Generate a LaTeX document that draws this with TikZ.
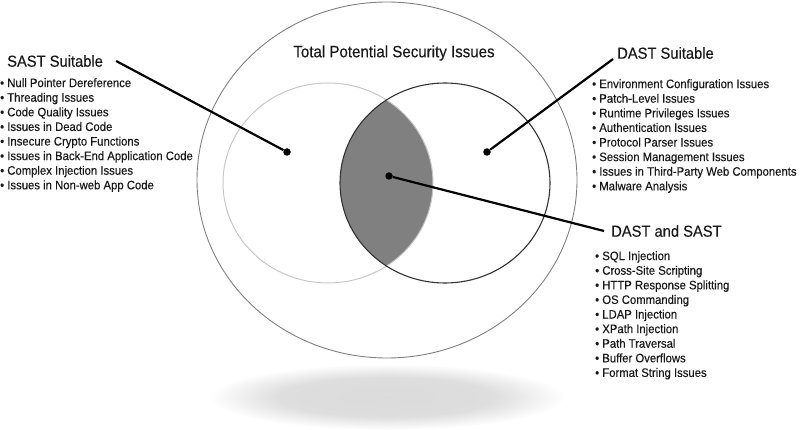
\documentclass[tikz,border=0pt]{standalone}
\usepackage{fontspec}
\setmainfont{Liberation Sans}[FakeStretch=0.92, FakeBold=0.3]
\usetikzlibrary{positioning}
\pgfdeclareradialshading{shadowshade}{\pgfpoint{0bp}{0bp}}{color(0bp)=(black!14); color(15bp)=(black!13); color(25bp)=(white); color(50bp)=(white)}
\begin{document}
\begin{tikzpicture}[x=1pt, y=-1pt]
    \tikzstyle{outer} = [draw=black!50, line width=0.9pt]
    \tikzstyle{sastring} = [draw=black!22, line width=1pt]
    \tikzstyle{dastring} = [draw=black!80, line width=1.1pt]
    \tikzstyle{dot} = [circle, fill=black, inner sep=0pt, minimum size=7.5pt]
    \tikzstyle{leader} = [line width=2.2pt]
    \tikzstyle{head} = [inner sep=0pt, text=black!90, font=\fontsize{16}{19}\selectfont]
    \tikzstyle{items} = [inner sep=0pt, align=left, text=black!90, font=\fontsize{12.3}{14.6}\selectfont]
    \useasboundingbox (0, 0) rectangle (800, 430);

    % shadow under the diagram
    \shade[shading=shadowshade] (387, 397) ellipse [x radius=178, y radius=33];

    % overlap of the two tests
    \begin{scope}
        \clip (328, 183) ellipse [x radius=105, y radius=100];
        \fill[black!50] (445, 183) ellipse [x radius=105, y radius=100];
    \end{scope}
    \draw[outer] (387, 180) ellipse [x radius=190, y radius=178];
    \draw[sastring] (328, 183) ellipse [x radius=105, y radius=100];
    \draw[dastring] (445, 183) ellipse [x radius=105, y radius=100];

    \node[head, font=\fontsize{16.4}{19}\selectfont] (total) at (394, 53) {Total Potential Security Issues};

    % SAST only
    \node[head, anchor=west] (sast) at (7, 61) {SAST Suitable};
    \node[items, anchor=north west] (sastlist) at (0, 78) {%
        \textbullet\ Null Pointer Dereference\\
        \textbullet\ Threading Issues\\
        \textbullet\ Code Quality Issues\\
        \textbullet\ Issues in Dead Code\\
        \textbullet\ Insecure Crypto Functions\\
        \textbullet\ Issues in Back-End Application Code\\
        \textbullet\ Complex Injection Issues\\
        \textbullet\ Issues in Non-web App Code};
    \node[dot] (sastdot) at (287, 152) {};
    \coordinate (sastend) at ([xshift=13pt]sast.east);
    \draw[leader] (sastdot) -- (sastend);

    % DAST only
    \node[head, anchor=west] (dast) at (617, 53) {DAST Suitable};
    \node[items, anchor=north west] (dastlist) at (592, 79) {%
        \textbullet\ Environment Configuration Issues\\
        \textbullet\ Patch-Level Issues\\
        \textbullet\ Runtime Privileges Issues\\
        \textbullet\ Authentication Issues\\
        \textbullet\ Protocol Parser Issues\\
        \textbullet\ Session Management Issues\\
        \textbullet\ Issues in Third-Party Web Components\\
        \textbullet\ Malware Analysis};
    \node[dot] (dastdot) at (487, 152) {};
    \coordinate (dastend) at ([xshift=-4pt]dast.south west);
    \draw[leader] (dastdot) -- (dastend);

    % both
    \node[head, anchor=west] (both) at (611, 231) {DAST and SAST};
    \node[items, anchor=north west] (bothlist) at (595, 251) {%
        \textbullet\ SQL Injection\\
        \textbullet\ Cross-Site Scripting\\
        \textbullet\ HTTP Response Splitting\\
        \textbullet\ OS Commanding\\
        \textbullet\ LDAP Injection\\
        \textbullet\ XPath Injection\\
        \textbullet\ Path Traversal\\
        \textbullet\ Buffer Overflows\\
        \textbullet\ Format String Issues};
    \node[dot] (bothdot) at (389, 176) {};
    \coordinate (bothend) at ([xshift=-7pt]both.west);
    \draw[leader] (bothdot) -- (bothend);
\end{tikzpicture}
\end{document}
